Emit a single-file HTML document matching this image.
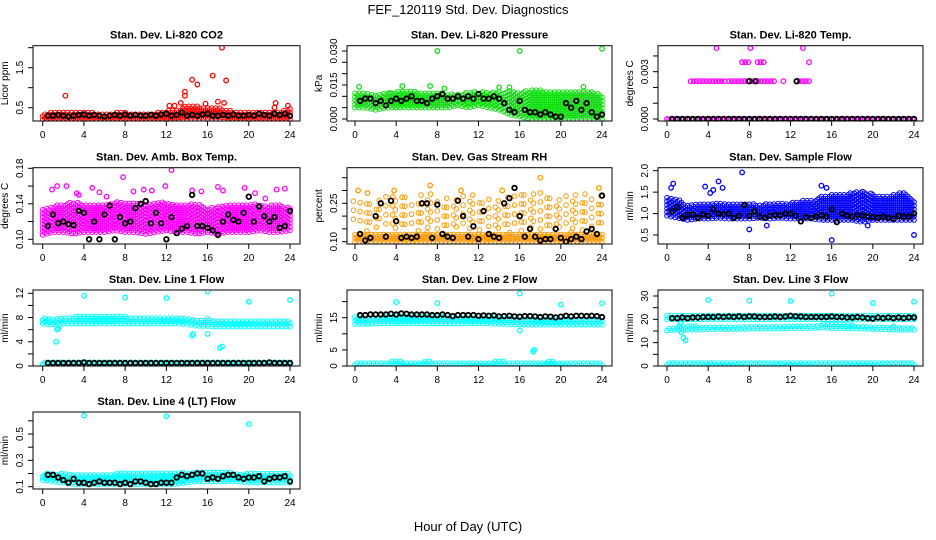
<!DOCTYPE html>
<html><head><meta charset="utf-8"><style>
html,body{margin:0;padding:0;background:#fff;}
svg{display:block;font-family:"Liberation Sans",Arial,sans-serif;}
</style></head><body>
<svg id="chart" width="936" height="540" viewBox="0 0 936 540" xmlns="http://www.w3.org/2000/svg">
<text x="468" y="14" text-anchor="middle" font-size="13">FEF_120119  Std. Dev. Diagnostics</text>
<text x="468" y="531" text-anchor="middle" font-size="13">Hour of Day (UTC)</text>
</svg>
<script>
const bandHours=[0,1,2,3,4,5,6,7,8,9,10,11,12,13,14,15,16,17,18,19,20,21,22,23,24];
const blackHours=[0.5,1,1.5,2,2.5,3,3.5,4,4.5,5,5.5,6,6.5,7,7.5,8,8.5,9,9.5,10,10.5,11,11.5,12,12.5,13,13.5,14,14.5,15,15.5,16,16.5,17,17.5,18,18.5,19,19.5,20,20.5,21,21.5,22,22.5,23,23.5,24];
const xTicks=[0,4,8,12,16,20,24];

const co2Lo=[0.2,0.2,0.2,0.2,0.2,0.2,0.2,0.2,0.2,0.2,0.2,0.2,0.2,0.2,0.22,0.22,0.22,0.22,0.2,0.2,0.2,0.2,0.2,0.2,0.2];
const co2Hi=[0.36,0.4,0.4,0.38,0.38,0.38,0.36,0.38,0.38,0.36,0.36,0.38,0.42,0.45,0.55,0.55,0.5,0.5,0.45,0.4,0.38,0.38,0.4,0.42,0.48];
const co2Black=[0.3,0.3,0.32,0.3,0.28,0.3,0.32,0.33,0.3,0.32,0.3,0.28,0.3,0.32,0.3,0.33,0.3,0.32,0.3,0.3,0.32,0.3,0.33,0.35,0.3,0.32,0.38,0.3,0.32,0.3,0.33,0.35,0.3,0.3,0.32,0.3,0.33,0.3,0.3,0.32,0.3,0.35,0.32,0.3,0.35,0.32,0.35,0.3];
const co2OutT=[2.2,13.8,13.8,14.5,15,16.5,17.4,17.8,12.3,12.8,13.4,22.6,22.5,23.8,17,17.6,15.8];
const co2OutV=[0.8,0.9,0.8,1.2,1.08,1.3,2.0,1.18,0.55,0.55,0.62,0.62,0.5,0.55,0.65,0.62,0.6];

const prLo=[0.005,0.005,0.004,0.005,0.005,0.005,0.005,0.005,0.005,0.005,0.006,0.005,0.006,0.005,0.004,0.002,0.001,0.0,0.0,0.0,0.0,0.0,0.0,0.0,0.0];
const prHi=[0.012,0.012,0.011,0.012,0.012,0.013,0.012,0.012,0.012,0.011,0.011,0.012,0.012,0.012,0.012,0.013,0.012,0.013,0.013,0.012,0.012,0.012,0.012,0.012,0.011];
const prBlack=[0.008,0.009,0.009,0.007,0.008,0.006,0.008,0.009,0.008,0.009,0.010,0.008,0.008,0.007,0.009,0.010,0.011,0.009,0.009,0.010,0.009,0.010,0.009,0.011,0.009,0.009,0.010,0.009,0.007,0.004,0.003,0.008,0.004,0.003,0.003,0.002,0.003,0.002,0.001,0.001,0.007,0.005,0.008,0.004,0.007,0.003,0.001,0.002];
const prOutT=[0.4,8,16,24,4.6,7.3,3.4,14,15,22.2,8.7];
const prOutV=[0.0142,0.030,0.030,0.031,0.0145,0.0145,0.0115,0.014,0.014,0.0142,0.0135];

const ltLo=[0,0,0,0,0,0,0,0,0,0,0,0,0,0,0,0,0,0,0,0,0,0,0,0,0];
const ltHi=[0,0,0,0,0,0,0,0,0,0,0,0,0,0,0,0,0,0,0,0,0,0,0,0,0];
const ltBlack=[0,0,0,0,0,0,0,0,0,0,0,0,0,0,0,0,0,0,0,0,0,0,0,0,0,0,0,0,0,0,0,0,0,0,0,0,0,0,0,0,0,0,0,0,0,0,0,0];
const ltOutT=[2.3,2.6,2.9,3.2,3.5,3.8,4.1,4.4,4.7,5,5.3,5.6,6,6.3,6.6,6.9,7.2,7.5,7.8,8.3,8.6,8.9,9.2,9.5,9.8,10.1,10.4,11.3,12.6,12.9,13.2,13.5,13.8,4.8,8.1,13.2,7.3,7.6,7.9,8.8,9.1,9.4,13.8];
const ltOutV=[0.0024,0.0024,0.0024,0.0024,0.0024,0.0024,0.0024,0.0024,0.0024,0.0024,0.0024,0.0024,0.0024,0.0024,0.0024,0.0024,0.0024,0.0024,0.0024,0.0024,0.0024,0.0024,0.0024,0.0024,0.0024,0.0024,0.0024,0.0024,0.0024,0.0024,0.0024,0.0024,0.0024,0.0045,0.0045,0.0045,0.0036,0.0036,0.0036,0.0036,0.0036,0.0036,0.0036];
const ltBlackExtraT=[8,8.6,12.6];
const ltBlackExtraV=[0.0024,0.0024,0.0024];

const btLo=[0.105,0.108,0.108,0.106,0.108,0.108,0.108,0.11,0.108,0.108,0.106,0.108,0.11,0.108,0.108,0.106,0.108,0.106,0.108,0.108,0.108,0.11,0.108,0.108,0.11];
const btHi=[0.135,0.138,0.14,0.142,0.14,0.14,0.14,0.142,0.142,0.142,0.14,0.142,0.142,0.14,0.14,0.14,0.135,0.138,0.14,0.14,0.14,0.14,0.138,0.14,0.135];
const btBlack=[0.115,0.128,0.118,0.12,0.117,0.116,0.132,0.13,0.1,0.12,0.1,0.128,0.138,0.1,0.125,0.118,0.12,0.135,0.14,0.143,0.118,0.13,0.118,0.1,0.125,0.107,0.112,0.115,0.15,0.115,0.115,0.113,0.11,0.105,0.12,0.128,0.122,0.12,0.13,0.148,0.12,0.137,0.126,0.12,0.125,0.113,0.115,0.132];
const btOutT=[0.9,1.4,2.3,3.3,4.8,5.5,7.8,8.8,9.8,10.6,11.9,12.5,14.5,15.4,17,17.5,19.6,20.6,21.6,22.7,23.5,3.5,6.2];
const btOutV=[0.156,0.16,0.16,0.152,0.158,0.153,0.17,0.154,0.156,0.155,0.16,0.178,0.155,0.154,0.159,0.155,0.158,0.152,0.146,0.156,0.157,0.15,0.148];

const rhLo=[0.1,0.1,0.1,0.1,0.1,0.1,0.1,0.1,0.1,0.1,0.1,0.1,0.1,0.1,0.1,0.1,0.1,0.1,0.1,0.1,0.1,0.1,0.1,0.1,0.1];
const rhHi=[0.13,0.13,0.135,0.13,0.135,0.13,0.13,0.135,0.13,0.13,0.135,0.13,0.135,0.13,0.13,0.135,0.13,0.13,0.135,0.13,0.13,0.135,0.13,0.13,0.13];
const rhUpLo=[0.18,0.15,0.16,0.17,0.15,0.16,0.15,0.16,0.15,0.16,0.15,0.16,0.15,0.16,0.15,0.16,0.15,0.16,0.15,0.16,0.15,0.16,0.15,0.16,0.17];
const rhUpHi=[0.27,0.27,0.26,0.28,0.29,0.27,0.28,0.3,0.27,0.28,0.27,0.29,0.28,0.27,0.26,0.28,0.3,0.27,0.3,0.28,0.27,0.29,0.28,0.28,0.29];
const rhBlack=[0.13,0.105,0.115,0.2,0.25,0.12,0.26,0.18,0.115,0.12,0.115,0.12,0.25,0.25,0.115,0.245,0.13,0.12,0.115,0.26,0.2,0.12,0.16,0.11,0.22,0.13,0.12,0.115,0.25,0.27,0.31,0.2,0.12,0.15,0.12,0.105,0.11,0.11,0.15,0.115,0.1,0.11,0.12,0.11,0.14,0.15,0.13,0.28];
const rhOutT=[0.3,1.2,3.8,7.3,18,23.7,10.3,14.3];
const rhOutV=[0.3,0.29,0.3,0.32,0.35,0.31,0.3,0.3];

const sfLo=[0.95,0.9,0.85,0.88,0.88,0.9,0.88,0.88,0.88,0.9,0.88,0.9,0.88,0.88,0.88,0.85,0.85,0.85,0.85,0.8,0.85,0.85,0.85,0.85,0.85];
const sfHi=[1.4,1.35,1.2,1.22,1.25,1.25,1.22,1.25,1.25,1.22,1.25,1.25,1.25,1.3,1.3,1.4,1.45,1.45,1.5,1.55,1.45,1.4,1.45,1.5,1.35];
const sfBlack=[1.05,1.15,0.9,0.97,0.98,0.9,0.98,0.95,1.1,1.0,0.98,1.0,0.9,0.95,1.2,0.95,1.05,0.93,0.9,0.95,0.97,0.96,1.0,1.0,0.95,0.82,0.92,0.9,0.93,0.96,0.93,1.1,0.8,1.0,0.95,0.93,0.97,0.95,0.93,0.92,0.9,0.93,0.9,0.88,0.95,0.93,0.93,1.0];
const sfOutT=[0.4,0.6,3.7,4.2,4.5,5,5.4,7.3,8,9.7,16,24,15,15.5,19.5];
const sfOutV=[1.6,1.7,1.63,1.48,1.55,1.75,1.6,1.96,0.63,0.72,0.38,0.5,1.65,1.6,0.72];

const l1Lo=[7.0,6.8,7.0,7.0,7.0,7.0,7.0,7.0,7.0,7.0,7.0,7.0,7.0,7.0,6.9,6.6,6.6,6.5,6.5,6.5,6.5,6.5,6.5,6.5,6.5];
const l1Hi=[8.0,7.8,8.0,8.2,8.2,8.2,8.2,8.2,8.2,8.0,8.0,8.0,8.0,8.0,7.8,7.6,7.8,7.6,7.5,7.5,7.5,7.5,7.5,7.5,7.4];
const l1LowLo=[0.3,0.3,0.3,0.3,0.3,0.3,0.3,0.3,0.3,0.3,0.3,0.3,0.3,0.3,0.3,0.3,0.3,0.3,0.3,0.3,0.3,0.3,0.3,0.3,0.3];
const l1LowHi=[0.7,0.7,0.7,0.7,0.8,0.7,0.7,0.7,0.7,0.7,0.8,0.7,0.7,0.7,0.7,0.7,0.7,0.7,0.7,0.7,0.7,0.7,0.7,0.7,0.7];
const l1Black=[0.5,0.5,0.5,0.5,0.5,0.5,0.5,0.6,0.5,0.5,0.5,0.5,0.5,0.5,0.5,0.5,0.5,0.5,0.5,0.5,0.5,0.5,0.5,0.5,0.5,0.5,0.5,0.5,0.5,0.5,0.5,0.5,0.5,0.5,0.5,0.5,0.5,0.5,0.5,0.5,0.5,0.5,0.5,0.6,0.5,0.5,0.5,0.5];
const l1OutT=[4,8,12,16,20,24,1.3,1.4,1.5,14.5,14.6,16,17.2,17.4];
const l1OutV=[11.6,11.3,11.2,12.3,10.6,10.9,4,6,6.2,5,5.3,5.3,3,3.2];

const l2Lo=[13,13,13.2,13.2,13.2,13.2,13.2,13.2,13.2,13.2,13.2,13.2,13.2,13.2,13,13,12.8,12.8,12.8,12.8,12.8,12.8,12.8,12.8,12.8];
const l2Hi=[15.5,15,15.3,15.5,15.5,15.5,15.5,15.5,15.5,15.3,15.3,15.3,15.3,15.3,15.3,15,15,15,15,15,15,15,15,15,15];
const l2LowLo=[0.3,0.3,0.3,0.3,0.3,0.3,0.3,0.3,0.3,0.3,0.3,0.3,0.3,0.3,0.3,0.3,0.3,0.3,0.3,0.3,0.3,0.3,0.3,0.3,0.3];
const l2LowHi=[1.3,1.3,1.3,1.3,1.5,1.3,1.3,1.5,1.3,1.3,1.3,1.3,1.3,1.3,1.5,1.3,1.3,1.3,1.3,1.5,1.3,1.3,1.3,1.3,1.3];
const l2Black=[15.8,15.8,16,16,16,16,16.2,16,16.3,16.2,16,16,16,16,15.8,15.8,16,15.8,15.5,15.8,15.8,15.8,15.8,15.6,15.7,15.6,15.7,15.4,15.5,15.6,15.4,15.3,15.5,15.5,15.4,15.2,15.4,15.3,15.1,15.3,15.6,15.4,15.6,15.6,15.5,15.6,15.5,15.2];
const l2OutT=[4,8,16,20,24,16,17.3,17.4];
const l2OutV=[19.8,19.5,22.5,19,19.5,11,4.5,5];

const l3Lo=[20,20,20,20,20,20,20,20,20,20,20,20,20,20,20,20,20,20,20,20,20,20,20,20,20];
const l3Hi=[21.5,21.5,21.5,21.5,21.5,21.5,21.5,22,21.5,21.5,21.5,21.5,21.5,21.5,21.5,21.5,21.5,21.5,21.5,21.5,21.5,21.5,21.5,21.5,21.5];
const l3MidLo=[15.2,15.5,15.5,15.5,15.8,15.8,15.8,15.8,16,16,16,16,16.2,16.2,16.2,16.5,16.2,16.2,16,16,15.8,15.8,15.5,15.5,15.5];
const l3MidHi=[16.5,16.5,17,17,17,17,17,17,17.2,17.2,17.3,17.5,17.5,17.5,17.5,18,18,17.8,17.5,17.2,17,17,17,16.8,16.5];
const l3LowLo=[0.5,0.5,0.5,0.5,0.5,0.5,0.5,0.5,0.5,0.5,0.5,0.5,0.5,0.5,0.5,0.5,0.5,0.5,0.5,0.5,0.5,0.5,0.5,0.5,0.5];
const l3LowHi=[1.5,1.5,1.5,1.5,1.5,1.5,1.5,1.5,1.5,1.5,1.5,1.5,1.8,1.8,1.8,1.8,1.8,1.8,1.8,1.8,1.8,1.8,1.8,1.8,1.8];
const l3Black=[20.5,20.5,20.8,20.5,20.8,20.8,21,21,21,21.2,21,21.2,21,21.3,21,21.3,21.2,21,21,21,21.2,21,21.2,21.5,21.3,21.2,21,21,21,21,21,21.2,21,21,20.8,20.8,21,20.8,20.5,20.3,20.8,20.5,20.8,20.5,20.8,20.5,20.8,20.8];
const l3OutT=[4,8,12,16,20,24,1.2,1.4,1.6,1.8,1.3];
const l3OutV=[28.3,28,27.8,31,27,27.5,17,14.5,12,11,18.5];

const l4Lo=[0.15,0.14,0.13,0.12,0.12,0.12,0.12,0.12,0.12,0.12,0.12,0.12,0.12,0.12,0.13,0.14,0.14,0.14,0.14,0.14,0.13,0.13,0.13,0.13,0.13];
const l4Hi=[0.2,0.2,0.2,0.2,0.2,0.2,0.2,0.2,0.21,0.21,0.21,0.21,0.21,0.21,0.21,0.21,0.21,0.21,0.21,0.2,0.2,0.2,0.2,0.2,0.2];
const l4Black=[0.19,0.19,0.17,0.15,0.13,0.16,0.13,0.13,0.12,0.13,0.14,0.13,0.13,0.13,0.12,0.13,0.12,0.14,0.14,0.13,0.12,0.12,0.13,0.13,0.13,0.17,0.19,0.18,0.19,0.2,0.2,0.16,0.17,0.16,0.18,0.19,0.19,0.17,0.16,0.17,0.17,0.18,0.14,0.16,0.17,0.17,0.18,0.14];
const l4OutT=[4,12,20];
const l4OutV=[0.64,0.635,0.575];

const NS='http://www.w3.org/2000/svg';
const svg=document.getElementById('chart');
function mk(tag,attrs,parent){const e=document.createElementNS(NS,tag);for(const k in attrs)e.setAttribute(k,attrs[k]);(parent||svg).appendChild(e);return e;}
const cols=[{L:33,R:300,x0:42.7,x24:290},{L:347,R:612,x0:355,x24:602},{L:658,R:923,x0:667,x24:914}];
const rows=[{T:45.7,B:121},{T:167.7,B:244},{T:290,B:366},{T:412,B:489}];
function interp(arr,t){const i=Math.min(23,Math.floor(t));const f=t-i;return arr[i]*(1-f)+arr[i+1]*f;}

function panel(o){
  const c=cols[o.col],r=rows[o.row];
  const g=mk('g',{});
  
  
  const xs=h=>c.x0+(c.x24-c.x0)*h/24;
  const ys=v=>o.p1+(o.p2-o.p1)*(v-o.v1)/(o.v2-o.v1);
  const clip='clip-'+o.name;
  const cp=mk('clipPath',{id:clip},g);mk('rect',{x:c.L,y:r.T,width:c.R-c.L,height:r.B-r.T},cp);
  const pts=mk('g',{'clip-path':'url(#'+clip+')'},g);
  function pt(x,y,col,w){const e=mk('circle',{cx:x.toFixed(1),cy:y.toFixed(1),r:2.3,fill:'none',stroke:col,'stroke-width':w||1},pts);return e;}
  (o.bands||[]).forEach(b=>{
    const step=b.sparse?0.5:0.2;
    let k=0;
    for(let t=0;t<=24.001;t+=step){
      const ylo=ys(interp(b.lo,t)),yhi=ys(interp(b.hi,t));
      const dy=b.sparse?9:3.6;
      const sh=(k%2)*dy/2;
      for(let y=ylo-sh;y>=yhi-0.1;y-=dy){
        const off=b.sparse?((k*37)%5)-2:0;
        pt(xs(t)+off*0.8,y+off,o.color);
      }
      if(ylo-yhi<1.5)pt(xs(t),ylo,o.color);
      k++;
    }
  });
  if(o.outT)o.outT.forEach((t,i)=>pt(xs(t),ys(o.outV[i]),o.color,1.3));
  o.black.forEach((v,i)=>pt(xs(blackHours[i]),ys(v),'#000',1.8));
  if(o.bxT)o.bxT.forEach((t,i)=>pt(xs(t),ys(o.bxV[i]),'#000',1.8));
  const box=mk('rect',{x:c.L,y:r.T,width:c.R-c.L,height:r.B-r.T,fill:'none',stroke:'#000','stroke-width':1},g);
  
  
  mk('line',{x1:xs(0),x2:xs(24),y1:r.B,y2:r.B,stroke:'#000'},g);
  xTicks.forEach(h=>{
    mk('line',{x1:xs(h),x2:xs(h),y1:r.B,y2:r.B+5,stroke:'#000'},g);
    const t=mk('text',{x:xs(h),y:r.B+17,'text-anchor':'middle','font-size':10},g);t.textContent=h;
    
    
  });
  const ya=o.ticks[0],yb=o.ticks[o.ticks.length-1];
  mk('line',{x1:c.L,x2:c.L,y1:ys(ya),y2:ys(yb),stroke:'#000'},g);
  o.ticks.forEach((v,i)=>{
    mk('line',{x1:c.L-5,x2:c.L,y1:ys(v),y2:ys(v),stroke:'#000'},g);
    if(o.labels[i]){
      const X=c.L-10,Y=ys(v);
      const t=mk('text',{x:X,y:Y,'text-anchor':'middle','font-size':10,transform:'rotate(-90 '+X+' '+Y+')'},g);t.textContent=o.labels[i];
      
      
    }
  });
  const yl=mk('text',{x:c.L-25,y:(r.T+r.B)/2,'text-anchor':'middle','font-size':10,transform:'rotate(-90 '+(c.L-25)+' '+((r.T+r.B)/2)+')'},g);
  yl.textContent=o.ylab;
  
  
  const tt=mk('text',{x:(c.L+c.R)/2,y:r.T-7,'text-anchor':'middle','font-size':11,'font-weight':'bold'},g);
  tt.textContent=o.title;
  
  
}

panel({name:'co2',col:0,row:0,title:'Stan. Dev. Li-820 CO2',ylab:'Licor ppm',color:'#ff0000',v1:0.5,p1:107.7,v2:1.5,p2:67.7,ticks:[0.5,1,1.5,2],labels:['0.5','','1.5',''],bands:[{lo:co2Lo,hi:co2Hi}],black:co2Black,outT:co2OutT,outV:co2OutV});
panel({name:'pressure',col:1,row:0,title:'Stan. Dev. Li-820 Pressure',ylab:'kPa',color:'#11dd11',v1:0,p1:119,v2:0.03,p2:51,ticks:[0,0.005,0.01,0.015,0.02,0.025,0.03],labels:['0.000','','','0.015','','','0.030'],bands:[{lo:prLo,hi:prHi}],black:prBlack,outT:prOutT,outV:prOutV});
panel({name:'licor-temp',col:2,row:0,title:'Stan. Dev. Li-820 Temp.',ylab:'degrees C',color:'#ff00ff',v1:0,p1:119,v2:0.003,p2:71.7,ticks:[0,0.001,0.002,0.003,0.004],labels:['0.000','','','0.003',''],bands:[{lo:ltLo,hi:ltHi}],black:ltBlack,outT:ltOutT,outV:ltOutV,bxT:ltBlackExtraT,bxV:ltBlackExtraV});
panel({name:'box-temp',col:0,row:1,title:'Stan. Dev. Amb. Box Temp.',ylab:'degrees C',color:'#ff00ff',v1:0.10,p1:239.3,v2:0.18,p2:168.3,ticks:[0.10,0.12,0.14,0.16,0.18],labels:['0.10','','0.14','','0.18'],bands:[{lo:btLo,hi:btHi}],black:btBlack,outT:btOutT,outV:btOutV});
panel({name:'gas-rh',col:1,row:1,title:'Stan. Dev. Gas Stream RH',ylab:'percent',color:'#ff9900',v1:0.10,p1:241.7,v2:0.25,p2:203.3,ticks:[0.10,0.15,0.20,0.25,0.30,0.35],labels:['0.10','','','0.25','',''],bands:[{lo:rhLo,hi:rhHi},{lo:rhUpLo,hi:rhUpHi,sparse:true}],black:rhBlack,outT:rhOutT,outV:rhOutV});
panel({name:'sample-flow',col:2,row:1,title:'Stan. Dev. Sample Flow',ylab:'ml/min',color:'#0000ff',v1:0.5,p1:235,v2:2.0,p2:170.7,ticks:[0.5,1,1.5,2],labels:['0.5','1.0','1.5','2.0'],bands:[{lo:sfLo,hi:sfHi}],black:sfBlack,outT:sfOutT,outV:sfOutV});
panel({name:'line1-flow',col:0,row:2,title:'Stan. Dev. Line 1 Flow',ylab:'ml/min',color:'#00ffff',v1:0,p1:366,v2:12,p2:293.3,ticks:[0,2,4,6,8,10,12],labels:['0','','4','','8','','12'],bands:[{lo:l1Lo,hi:l1Hi},{lo:l1LowLo,hi:l1LowHi}],black:l1Black,outT:l1OutT,outV:l1OutV});
panel({name:'line2-flow',col:1,row:2,title:'Stan. Dev. Line 2 Flow',ylab:'ml/min',color:'#00ffff',v1:0,p1:366,v2:15,p2:317.7,ticks:[0,5,10,15,20],labels:['0','5','','15',''],bands:[{lo:l2Lo,hi:l2Hi},{lo:l2LowLo,hi:l2LowHi}],black:l2Black,outT:l2OutT,outV:l2OutV});
panel({name:'line3-flow',col:2,row:2,title:'Stan. Dev. Line 3 Flow',ylab:'ml/min',color:'#00ffff',v1:0,p1:366,v2:30,p2:296,ticks:[0,5,10,15,20,25,30],labels:['0','','10','','20','','30'],bands:[{lo:l3Lo,hi:l3Hi},{lo:l3MidLo,hi:l3MidHi},{lo:l3LowLo,hi:l3LowHi}],black:l3Black,outT:l3OutT,outV:l3OutV});
panel({name:'line4-flow',col:0,row:3,title:'Stan. Dev. Line 4 (LT) Flow',ylab:'ml/min',color:'#00ffff',v1:0.1,p1:486.7,v2:0.5,p2:434,ticks:[0.1,0.2,0.3,0.4,0.5,0.6],labels:['0.1','','0.3','','0.5',''],bands:[{lo:l4Lo,hi:l4Hi}],black:l4Black,outT:l4OutT,outV:l4OutV});
</script>
</body></html>
